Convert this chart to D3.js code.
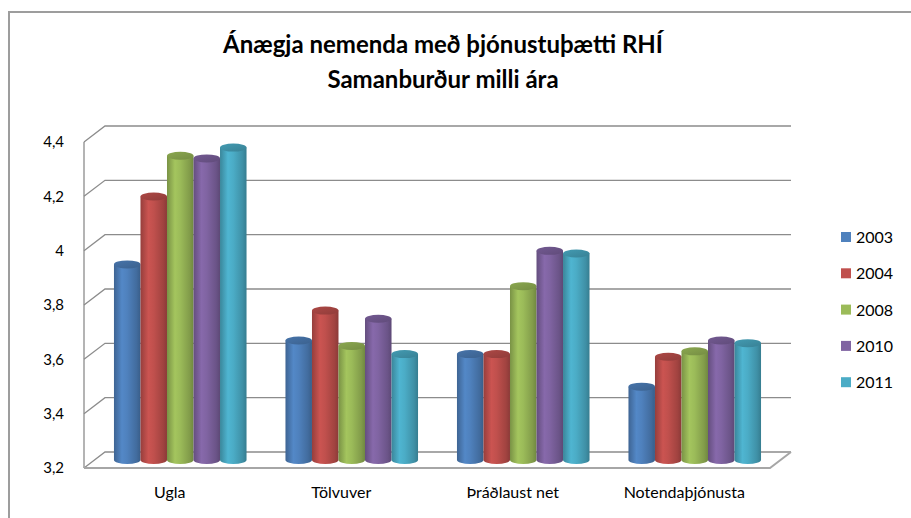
<!DOCTYPE html>
<html>
<head>
<meta charset="utf-8">
<script src="https://cdn.jsdelivr.net/npm/d3@7"></script>
<style>
	body { margin: 0; background: #fff; }
	svg { display: block; font-family: Lato, "Open Sans", sans-serif; }
</style>
</head>
<body>
<svg id="chart" width="911" height="518"></svg>
<script>
(function(){

	// data
	const categories = ["Ugla", "Tölvuver", "Þráðlaust net", "Notendaþjónusta"];
	const years = ["2003", "2004", "2008", "2010", "2011"];
	const values2003 = [3.92, 3.64, 3.59, 3.47];
	const values2004 = [4.17, 3.75, 3.59, 3.58];
	const values2008 = [4.32, 3.62, 3.84, 3.60];
	const values2010 = [4.31, 3.72, 3.97, 3.64];
	const values2011 = [4.35, 3.59, 3.96, 3.63];
	const seriesValues = [values2003, values2004, values2008, values2010, values2011];
	const yTicks = [3.2, 3.4, 3.6, 3.8, 4, 4.2, 4.4];
	const titleLines = ["Ánægja nemenda með þjónustuþætti RHÍ", "Samanburður milli ára"];

	const colors = ["#4f81bd", "#c0504d", "#9bbb59", "#8064a2", "#4bacc6"];

	const svg = d3.select("#chart");
	const defs = svg.append("defs");

	// 3d box: back wall plane and depth offset toward the viewer
	const backLeft = 105, backRight = 791;
	const depthX = 21, depthY = 16;

	const yBack = d3.scaleLinear().domain([3.2, 4.4]).range([452, 126]);
	const yFront = d3.scaleLinear().domain([3.2, 4.4]).range([452 + depthY, 126 + depthY]);
	const yMid = d3.scaleLinear().domain([3.2, 4.4]).range([452 + depthY / 2, 126 + depthY / 2]);

	// categories on the middle plane where the cylinders stand
	const x0 = d3.scaleBand().domain(categories)
		.range([backLeft - depthX / 2, backRight - depthX / 2])
		.paddingInner(0.227).paddingOuter(0.1135);
	const x1 = d3.scaleBand().domain(years).range([0, x0.bandwidth()]);
	const xFront = d3.scaleBand().domain(categories)
		.range([backLeft - depthX, backRight - depthX])
		.paddingInner(0.227).paddingOuter(0.1135);

	// outer chart border (left and top show)
	svg.append("path")
		.attr("d", "M9,518 L9,12 L911,12")
		.attr("fill", "none")
		.attr("stroke", "#9d9d9d")
		.attr("stroke-width", 2);

	// title
	svg.append("g").selectAll("text").data(titleLines).enter().append("text")
		.attr("x", 443)
		.attr("y", function(d, i) { return 53 + i * 35; })
		.attr("text-anchor", "middle")
		.attr("font-size", "24px")
		.attr("font-weight", "bold")
		.attr("fill", "#000")
		.text(function(d) { return d; });

	// gridlines: diagonal on the side wall, then across the back wall
	const grid = svg.append("g");
	grid.selectAll("path").data(yTicks).enter().append("path")
		.attr("d", function(d) {
			return "M" + (backLeft - depthX) + "," + yFront(d) +
				" L" + backLeft + "," + yBack(d) +
				" L" + backRight + "," + yBack(d);
		})
		.attr("fill", "none")
		.attr("stroke", "#8c8c8c")
		.attr("stroke-width", 1.3);

	// front vertical edge of the side wall
	grid.append("line")
		.attr("x1", backLeft - depthX).attr("x2", backLeft - depthX)
		.attr("y1", yFront(4.4)).attr("y2", yFront(3.2))
		.attr("stroke", "#8c8c8c").attr("stroke-width", 1.3);

	// floor outline
	grid.append("path")
		.attr("d", "M" + (backLeft - depthX) + "," + yFront(3.2) +
			" L" + (backRight - depthX) + "," + yFront(3.2) +
			" L" + backRight + "," + yBack(3.2))
		.attr("fill", "none")
		.attr("stroke", "#a6a6a6")
		.attr("stroke-width", 2);

	// y axis labels at the front edge
	const locale = d3.formatLocale({decimal: ",", thousands: ".", grouping: [3], currency: ["", ""]});
	const yAxis = d3.axisLeft(yFront).tickValues(yTicks).tickSize(0).tickPadding(20)
		.tickFormat(locale.format(".1~f"));
	const yAxisG = svg.append("g")
		.attr("transform", "translate(" + (backLeft - depthX) + ",0)")
		.call(yAxis);
	yAxisG.select(".domain").remove();
	yAxisG.selectAll("text")
		.attr("font-size", "15px")
		.attr("font-family", "Lato, 'Open Sans', sans-serif")
		.attr("fill", "#000");

	// category labels
	const xAxis = d3.axisBottom(xFront).tickSize(0).tickPadding(19);
	const xAxisG = svg.append("g")
		.attr("transform", "translate(0," + yFront(3.2) + ")")
		.call(xAxis);
	xAxisG.select(".domain").remove();
	xAxisG.selectAll("text")
		.attr("font-size", "16px")
		.attr("font-family", "Lato, 'Open Sans', sans-serif")
		.attr("fill", "#000");

	// gradients for the cylinder shading
	colors.forEach(function(c, i) {
		const base = d3.color(c);
		const side = defs.append("linearGradient").attr("id", "side" + i)
			.attr("x1", "0").attr("x2", "1").attr("y1", "0").attr("y2", "0");
		side.append("stop").attr("offset", "0").attr("stop-color", base.darker(0.7));
		side.append("stop").attr("offset", "0.3").attr("stop-color", base.brighter(0.15));
		side.append("stop").attr("offset", "0.5").attr("stop-color", base);
		side.append("stop").attr("offset", "0.85").attr("stop-color", base.darker(0.5));
		side.append("stop").attr("offset", "1").attr("stop-color", base.darker(0.9));
		const top = defs.append("linearGradient").attr("id", "top" + i)
			.attr("x1", "0").attr("x2", "1").attr("y1", "0").attr("y2", "1");
		top.append("stop").attr("offset", "0").attr("stop-color", base.darker(0.3));
		top.append("stop").attr("offset", "1").attr("stop-color", base.darker(0.8));
	});

	// cylinders
	const ry = 4;
	const bars = [];
	categories.forEach(function(cat, ci) {
		years.forEach(function(yr, si) {
			bars.push({cat: cat, year: yr, series: si, value: seriesValues[si][ci]});
		});
	});

	const cyl = svg.append("g").selectAll("g").data(bars).enter().append("g");

	cyl.append("path")
		.attr("d", function(d) {
			const left = x0(d.cat) + x1(d.year);
			const right = left + x1.bandwidth();
			const rx = x1.bandwidth() / 2;
			const top = yMid(d.value);
			const bottom = yMid(3.2);
			return "M" + left + "," + top + " L" + left + "," + bottom +
				" A" + rx + "," + ry + " 0 0 0 " + right + "," + bottom +
				" L" + right + "," + top + " Z";
		})
		.attr("fill", function(d) { return "url(#side" + d.series + ")"; });

	cyl.append("ellipse")
		.attr("cx", function(d) { return x0(d.cat) + x1(d.year) + x1.bandwidth() / 2; })
		.attr("cy", function(d) { return yMid(d.value); })
		.attr("rx", x1.bandwidth() / 2)
		.attr("ry", ry)
		.attr("fill", function(d) { return "url(#top" + d.series + ")"; });

	// legend
	const legend = svg.append("g").selectAll("g").data(years).enter().append("g")
		.attr("transform", function(d, i) { return "translate(841," + (237 + i * 36.3) + ")"; });
	legend.append("rect")
		.attr("x", 0).attr("y", -5)
		.attr("width", 10).attr("height", 10)
		.attr("fill", function(d, i) { return colors[i]; });
	legend.append("text")
		.attr("x", 15).attr("y", 6)
		.attr("font-size", "16px")
		.attr("fill", "#000")
		.text(function(d) { return d; });

}());
</script>
</body>
</html>
